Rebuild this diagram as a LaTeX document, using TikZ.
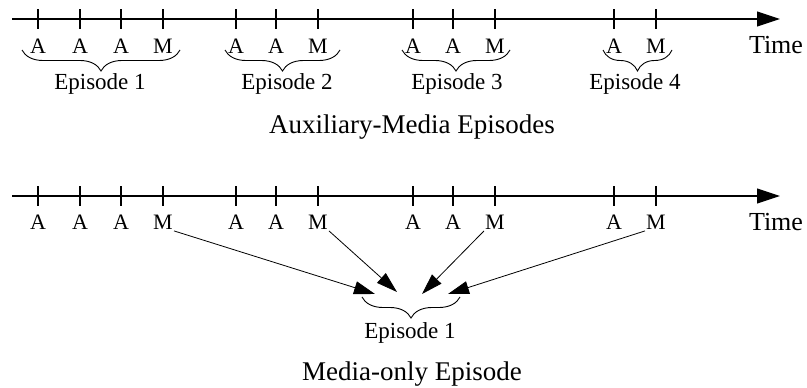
\documentclass[tikz,border=0pt]{standalone}
\usepackage{fontspec}
\setmainfont{Liberation Serif}
\usetikzlibrary{arrows.meta}
\usetikzlibrary{positioning}
\usetikzlibrary{decorations.pathreplacing}

\tikzset{
  timeline/.style={line width=1.2pt, -{Triangle[length=23pt,width=15pt]}},
  tickmark/.style={line width=1.1pt},
  event/.style={inner sep=1pt, font=\fontsize{22}{22}\selectfont},
  episodebrace/.style={line width=0.9pt,
    decorate, decoration={brace, mirror, amplitude=21pt}},
  episodelabel/.style={anchor=base, inner sep=0pt, font=\fontsize{23}{23}\selectfont},
  caption/.style={anchor=base, inner sep=0pt, font=\fontsize{27}{27}\selectfont},
  timelabel/.style={anchor=base, inner sep=0pt, font=\fontsize{26}{26}\selectfont},
  merge/.style={line width=0.8pt, -{Triangle[length=21pt,width=13pt]}},
}

\begin{document}
\begin{tikzpicture}[x=1pt,y=-1pt]
  \useasboundingbox (0,0) rectangle (807,388);

  % the two time axes
  \coordinate (auxstart) at (12,19);
  \coordinate (auxend) at (780,19);
  \coordinate (medstart) at (12,196);
  \coordinate (medend) at (780,196);
  \draw [timeline] (auxstart) -- (auxend);
  \draw [timeline] (medstart) -- (medend);

  \node [timelabel] (auxtime) at (776,53) {Time};
  \node [timelabel] (medtime) at (776,230) {Time};

  % ticks with A/M events, t = upper axis, b = lower axis
  \foreach \x/\ev [count=\i] in {38/A,80/A,121/A,163/M,236/A,276/A,318/M,
                                 413/A,453/A,495/M,614/A,656/M} {
    \draw [tickmark] (\x,9) -- (\x,29);
    \node [event] (t\i) at (\x,46) {\ev};
    \draw [tickmark] (\x,186) -- (\x,206);
    \node [event] (b\i) at (\x,222.5) {\ev};
  }

  % auxiliary-media episodes
  \draw [episodebrace] (22,50) -- (180,50);
  \draw [episodebrace] (225,50) -- (340,50);
  \draw [episodebrace] (402,50) -- (510,50);
  \draw [episodebrace] (603,50) -- (672,50);

  \node [episodelabel] (auxep1) at (100,89) {Episode 1};
  \node [episodelabel] (auxep2) at (287,89) {Episode 2};
  \node [episodelabel] (auxep3) at (457,89) {Episode 3};
  \node [episodelabel] (auxep4) at (635,89) {Episode 4};

  \node [caption] (auxcaption) at (412,133) {Auxiliary-Media Episodes};

  % media-only episode: every M merges into one
  \coordinate (in1) at (375,294);
  \coordinate (in2) at (397,292);
  \coordinate (in3) at (422,294);
  \coordinate (in4) at (448,294);

  \draw [merge] (b4.south east) -- (in1);
  \draw [merge] (b7.south east) -- (in2);
  \draw [merge] (b10.south west) -- (in3);
  \draw [merge] (b12.south west) -- (in4);

  \draw [episodebrace] (362,297) -- (460,297);
  \node [episodelabel] (medep1) at (410,338) {Episode 1};

  \node [caption] (medcaption) at (412,380) {Media-only Episode};

\end{tikzpicture}
\end{document}
